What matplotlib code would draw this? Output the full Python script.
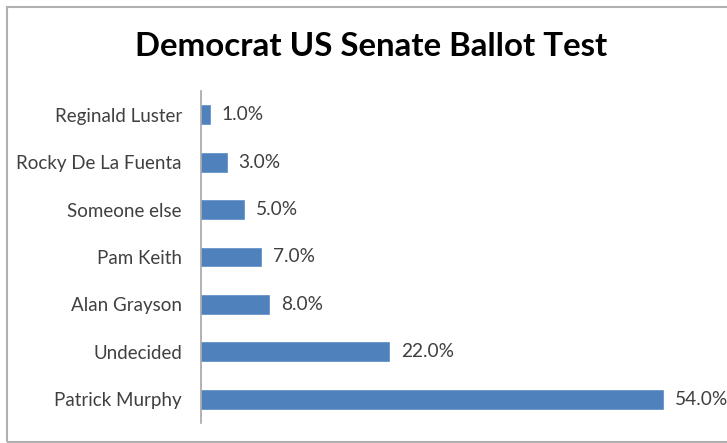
import matplotlib
matplotlib.use("Agg")
import matplotlib.pyplot as plt
from matplotlib.patches import Rectangle

categories = ["Patrick Murphy", "Undecided", "Alan Grayson", "Pam Keith",
              "Someone else", "Rocky De La Fuenta", "Reginald Luster"]
values = [54.0, 22.0, 8.0, 7.0, 5.0, 3.0, 1.0]
title = "Democrat US Senate Ballot Test"

plt.rcParams['font.family'] = ['Lato', 'DejaVu Sans']

fig = plt.figure(figsize=(7.27, 4.43), dpi=100)
fig.patch.set_facecolor('white')
fig.patches.append(Rectangle((7/727, 1.5/443), 1.0, 435/443, transform=fig.transFigure,
                             fill=False, edgecolor='#b0b0b0', linewidth=1.5))

ax = fig.add_axes([201/727, 1 - 423/443, 505/727, 332/443])
y = list(range(len(categories)))
ax.barh(y, values, height=0.4, color='#4F81BD', edgecolor='#5b8cc6', linewidth=0.5)
ax.set_ylim(-0.5, len(categories) - 0.5)
ax.set_xlim(0, 59)
ax.set_yticks(y)
ax.set_yticklabels(categories, fontsize=13.5, color='#404040')
ax.tick_params(axis='y', length=0, pad=13.7)
ax.set_xticks([])
for s in ['top', 'right', 'bottom']:
    ax.spines[s].set_visible(False)
ax.spines['left'].set_color('#a6a6a6')
ax.spines['left'].set_linewidth(1.2)

for yi, v in zip(y, values):
    ax.annotate(f"{v:.1f}%", (v, yi), xytext=(8.5, 0), textcoords='offset points',
                va='center', ha='left', fontsize=13.8, color='#404040')

fig.text(371/727, 1 - 46/443, title, ha='center', va='center',
         fontsize=23.8, fontweight='bold', color='black')

fig.savefig("out.png", dpi=100)
